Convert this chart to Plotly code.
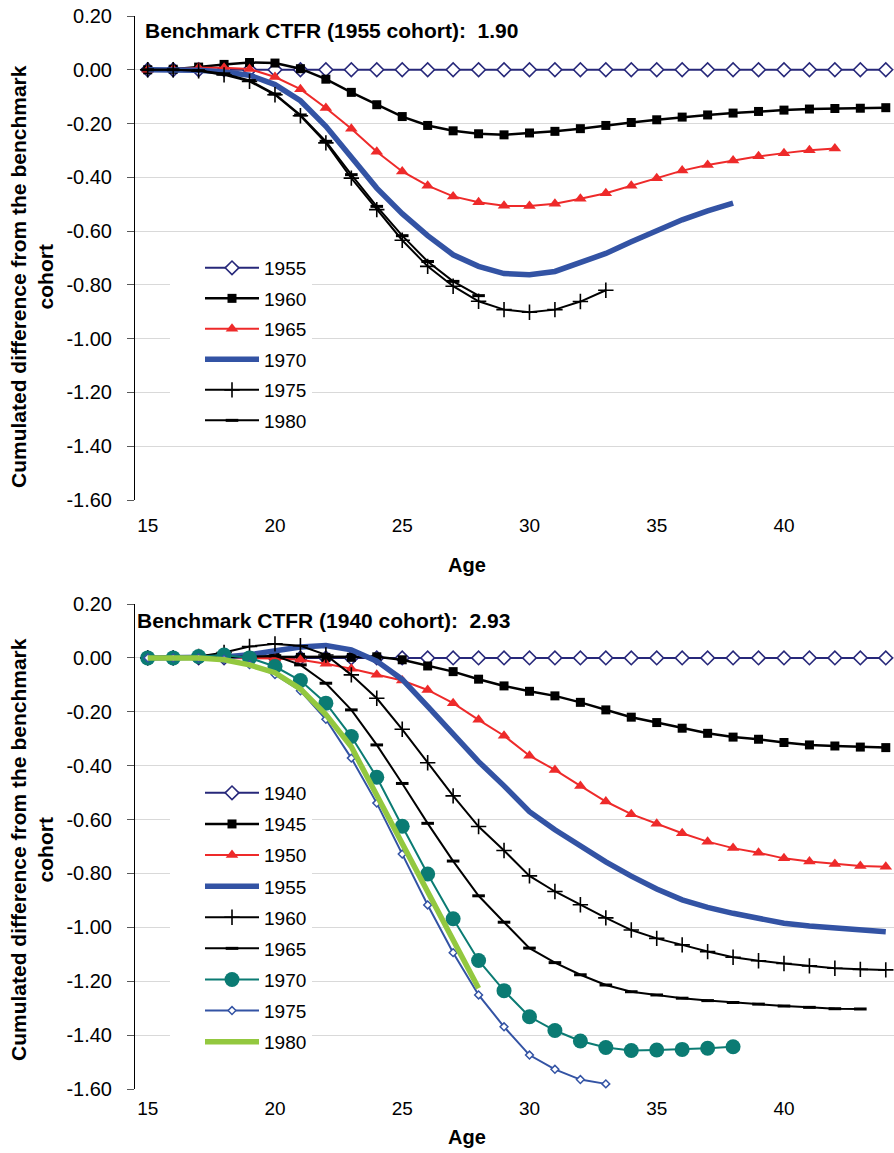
import plotly.graph_objects as go

# ---------------- data ----------------
top_ages_1955 = list(range(15, 45))
top_1955 = [0.000, 0.000, 0.000, 0.000, 0.000, 0.000, 0.000, 0.000, 0.000, 0.000,
            0.000, 0.000, 0.000, 0.000, 0.000, 0.000, 0.000, 0.000, 0.000, 0.000,
            0.000, 0.000, 0.000, 0.000, 0.000, 0.000, 0.000, 0.000, 0.000, 0.000]
top_ages_1960 = list(range(15, 45))
top_1960 = [0.000, 0.002, 0.010, 0.020, 0.027, 0.025, 0.004, -0.035, -0.084, -0.130,
            -0.174, -0.207, -0.227, -0.238, -0.242, -0.235, -0.229, -0.219, -0.207, -0.196,
            -0.186, -0.176, -0.168, -0.161, -0.155, -0.150, -0.146, -0.144, -0.143, -0.141]
top_ages_1965 = list(range(15, 43))
top_1965 = [0.000, 0.002, 0.008, 0.008, 0.003, -0.027, -0.072, -0.142, -0.219, -0.305,
            -0.378, -0.431, -0.471, -0.493, -0.506, -0.507, -0.498, -0.480, -0.459, -0.431,
            -0.403, -0.375, -0.354, -0.337, -0.322, -0.310, -0.299, -0.293]
top_ages_1970 = list(range(15, 39))
top_1970 = [0.000, 0.000, -0.002, -0.008, -0.020, -0.055, -0.115, -0.210, -0.325, -0.440,
            -0.535, -0.617, -0.688, -0.731, -0.758, -0.762, -0.750, -0.719, -0.683, -0.640,
            -0.597, -0.558, -0.525, -0.496]
top_ages_1975 = list(range(15, 34))
top_1975 = [0.000, 0.000, -0.004, -0.019, -0.043, -0.093, -0.171, -0.272, -0.403, -0.520,
            -0.634, -0.731, -0.805, -0.861, -0.892, -0.902, -0.892, -0.862, -0.820]
top_ages_1980 = list(range(15, 29))
top_1980 = [0.000, 0.000, -0.003, -0.015, -0.040, -0.090, -0.168, -0.266, -0.390, -0.508,
            -0.617, -0.713, -0.787, -0.840]

bot_ages_1940 = list(range(15, 45))
bot_1940 = [0.000, 0.000, 0.000, 0.000, 0.000, 0.000, 0.000, 0.000, 0.000, 0.000,
            0.000, 0.000, 0.000, 0.000, 0.000, 0.000, 0.000, 0.000, 0.000, 0.000,
            0.000, 0.000, 0.000, 0.000, 0.000, 0.000, 0.000, 0.000, 0.000, 0.000]
bot_ages_1945 = list(range(15, 45))
bot_1945 = [0.000, 0.000, 0.000, 0.002, 0.003, 0.003, 0.002, 0.002, 0.002, 0.004,
            -0.007, -0.030, -0.051, -0.079, -0.104, -0.124, -0.141, -0.165, -0.193, -0.220,
            -0.240, -0.261, -0.280, -0.294, -0.302, -0.314, -0.323, -0.327, -0.331, -0.333]
bot_ages_1950 = list(range(15, 45))
bot_1950 = [0.000, 0.000, 0.000, 0.000, 0.000, -0.002, -0.007, -0.022, -0.040, -0.063,
            -0.084, -0.119, -0.168, -0.230, -0.289, -0.363, -0.416, -0.475, -0.533, -0.580,
            -0.616, -0.651, -0.682, -0.706, -0.723, -0.744, -0.756, -0.765, -0.772, -0.775]
bot_ages_1955 = list(range(15, 45))
bot_1955 = [0.000, 0.000, 0.000, 0.003, 0.012, 0.028, 0.040, 0.046, 0.030, -0.012,
            -0.080, -0.180, -0.280, -0.385, -0.475, -0.571, -0.638, -0.700, -0.757, -0.810,
            -0.858, -0.898, -0.926, -0.948, -0.967, -0.985, -0.995, -1.003, -1.010, -1.016]
bot_ages_1960 = list(range(15, 45))
bot_1960 = [0.000, 0.000, 0.005, 0.020, 0.042, 0.052, 0.045, 0.011, -0.063, -0.150,
            -0.265, -0.389, -0.512, -0.626, -0.715, -0.809, -0.867, -0.916, -0.965, -1.010,
            -1.041, -1.065, -1.090, -1.111, -1.124, -1.134, -1.143, -1.152, -1.156, -1.158]
bot_ages_1965 = list(range(15, 44))
bot_1965 = [0.000, 0.000, 0.000, 0.002, 0.005, 0.008, -0.026, -0.094, -0.193, -0.323,
            -0.466, -0.614, -0.754, -0.883, -0.981, -1.077, -1.131, -1.176, -1.214, -1.239,
            -1.251, -1.263, -1.272, -1.279, -1.285, -1.292, -1.297, -1.302, -1.303]
bot_ages_1970 = list(range(15, 39))
bot_1970 = [0.000, 0.000, 0.005, 0.011, 0.000, -0.032, -0.084, -0.168, -0.292, -0.443,
            -0.625, -0.802, -0.968, -1.123, -1.235, -1.332, -1.383, -1.422, -1.446, -1.457,
            -1.455, -1.453, -1.449, -1.443]
bot_ages_1975 = list(range(15, 34))
bot_1975 = [0.000, 0.000, 0.000, -0.005, -0.025, -0.062, -0.122, -0.228, -0.372, -0.539,
            -0.728, -0.917, -1.094, -1.251, -1.369, -1.474, -1.527, -1.565, -1.581]
bot_ages_1980 = list(range(15, 29))
bot_1980 = [0.000, 0.000, 0.000, -0.007, -0.026, -0.055, -0.115, -0.210, -0.330, -0.510,
            -0.688, -0.861, -1.040, -1.226]

x_tick_vals = [15, 20, 25, 30, 35, 40]
x_tick_labels = ["15", "20", "25", "30", "35", "40"]
y_tick_vals = [0.2, 0.0, -0.2, -0.4, -0.6, -0.8, -1.0, -1.2, -1.4, -1.6]
y_tick_labels = ["0.20", "0.00", "-0.20", "-0.40", "-0.60", "-0.80", "-1.00", "-1.20", "-1.40", "-1.60"]
zero_tick_vals = [14.5, 19.5, 24.5, 29.5, 34.5, 39.5]

top_title = "Benchmark CTFR (1955 cohort):\u00a0 1.90"
bot_title = "Benchmark CTFR (1940 cohort):\u00a0 2.93"
y_title = "Cumulated difference from the benchmark<br>cohort"
x_title = "Age"

# ---------------- styles ----------------
NAVY = "#27287A"
BLACK = "#000000"
RED = "#EE2A2A"
BLUE = "#3353A4"
TEAL = "#0B7B73"
GREEN = "#93C83F"
FONT = "Liberation Sans, Arial, sans-serif"

W, H = 894, 1153


def py(p):
    return 1 - p / H


def px(p):
    return p / W


top_dom = [py(500), py(16)]
bot_dom = [py(1089), py(604)]
x_dom = [px(135), 1.0]
x_range = [14.5, 14.5 + (W - 135) / 25.45]
y_range = [-1.6, 0.2]

styles = {
    "navy_diamond": dict(line=dict(color=NAVY, width=2),
                         marker=dict(symbol="diamond", size=10.5, color="white",
                                     line=dict(color=NAVY, width=1.6))),
    "black_square": dict(line=dict(color=BLACK, width=2.5),
                         marker=dict(symbol="square", size=9, color=BLACK)),
    "red_triangle": dict(line=dict(color=RED, width=2),
                         marker=dict(symbol="triangle-up", size=11, color=RED)),
    "blue_thick": dict(line=dict(color=BLUE, width=5.5), mode="lines"),
    "black_plus": dict(line=dict(color=BLACK, width=2),
                       marker=dict(symbol="cross-thin", size=11, color=BLACK,
                                   line=dict(color=BLACK, width=1.6))),
    "black_dash": dict(line=dict(color=BLACK, width=2),
                       marker=dict(symbol="line-ew", size=9, color=BLACK,
                                   line=dict(color=BLACK, width=3))),
    "teal_circle": dict(line=dict(color=TEAL, width=2),
                        marker=dict(symbol="circle", size=15, color=TEAL)),
    "blue_small_diamond": dict(line=dict(color=BLUE, width=2),
                               marker=dict(symbol="diamond", size=6, color="white",
                                           line=dict(color=BLUE, width=1.5))),
    "green_thick": dict(line=dict(color=GREEN, width=5.5), mode="lines"),
}

top_series = [
    ("1955", top_ages_1955, top_1955, "navy_diamond"),
    ("1960", top_ages_1960, top_1960, "black_square"),
    ("1965", top_ages_1965, top_1965, "red_triangle"),
    ("1970", top_ages_1970, top_1970, "blue_thick"),
    ("1975", top_ages_1975, top_1975, "black_plus"),
    ("1980", top_ages_1980, top_1980, "black_dash"),
]
bot_series = [
    ("1940", bot_ages_1940, bot_1940, "navy_diamond"),
    ("1945", bot_ages_1945, bot_1945, "black_square"),
    ("1950", bot_ages_1950, bot_1950, "red_triangle"),
    ("1955", bot_ages_1955, bot_1955, "blue_thick"),
    ("1960", bot_ages_1960, bot_1960, "black_plus"),
    ("1965", bot_ages_1965, bot_1965, "black_dash"),
    ("1970", bot_ages_1970, bot_1970, "teal_circle"),
    ("1975", bot_ages_1975, bot_1975, "blue_small_diamond"),
    ("1980", bot_ages_1980, bot_1980, "green_thick"),
]

fig = go.Figure()
for name, xs, ys, st in top_series:
    s = dict(styles[st])
    mode = s.pop("mode", "lines+markers")
    fig.add_trace(go.Scatter(x=xs, y=ys, name=name, mode=mode, xaxis="x", yaxis="y",
                             legend="legend", legendgroup="t" + name, **s))
for name, xs, ys, st in bot_series:
    s = dict(styles[st])
    mode = s.pop("mode", "lines+markers")
    fig.add_trace(go.Scatter(x=xs, y=ys, name=name, mode=mode, xaxis="x2", yaxis="y2",
                             legend="legend2", legendgroup="b" + name, **s))

xtickfont = dict(family=FONT, size=19, color="black")
ytickfont = dict(family=FONT, size=20, color="black")


def xaxis_main(anchor, standoff):
    return dict(domain=x_dom, range=x_range, anchor=anchor, tickmode="array",
                tickvals=x_tick_vals, ticktext=x_tick_labels, showgrid=False,
                zeroline=False, showline=False, ticks="", tickfont=xtickfont,
                ticklabelstandoff=standoff, automargin=False)


def xaxis_zero(over, dom):
    pos = dom[0] + (0 - y_range[0]) / (y_range[1] - y_range[0]) * (dom[1] - dom[0])
    return dict(overlaying=over, anchor="free", position=pos, domain=x_dom, range=x_range,
                tickmode="array", tickvals=zero_tick_vals, showticklabels=False,
                ticks="outside", ticklen=5, tickcolor="#404040", tickwidth=1,
                showgrid=False, zeroline=False, showline=False, layer="below traces",
                automargin=False)


def yaxis_main(anchor, dom):
    return dict(domain=dom, range=y_range, anchor=anchor, tickmode="array",
                tickvals=y_tick_vals, ticktext=y_tick_labels, showgrid=True,
                gridcolor="#D9D9D9", gridwidth=1, zeroline=False, showline=True,
                linecolor="black", linewidth=1, ticks="outside", ticklen=7,
                tickcolor="#595959", tickfont=ytickfont, ticklabelstandoff=11,
                automargin=False)


legend_common = dict(bgcolor="white", borderwidth=0, xanchor="left", yanchor="top",
                     font=dict(family=FONT, size=19, color="black"),
                     itemwidth=54, indentation=30,
                     itemclick=False, itemdoubleclick=False)

fig.update_layout(
    width=W, height=H, margin=dict(l=0, r=0, t=0, b=0, autoexpand=False),
    paper_bgcolor="white", plot_bgcolor="white",
    font=dict(family=FONT, color="black"),
    showlegend=True,
    xaxis=xaxis_main("y", 12),
    yaxis=yaxis_main("x", top_dom),
    xaxis2=xaxis_main("y2", 6),
    yaxis2=yaxis_main("x2", bot_dom),
    xaxis3=xaxis_zero("x", top_dom),
    xaxis4=xaxis_zero("x2", bot_dom),
    legend=dict(x=px(170), y=py(249), tracegroupgap=2.8, **legend_common),
    legend2=dict(x=px(170), y=py(774), tracegroupgap=3.4, **legend_common),
    annotations=[
        dict(text=top_title, x=px(143), y=py(31), xref="paper", yref="paper",
             xanchor="left", yanchor="middle", showarrow=False,
             font=dict(family=FONT, size=21, color="black", weight="bold")),
        dict(text=bot_title, x=px(135), y=py(620), xref="paper", yref="paper",
             xanchor="left", yanchor="middle", showarrow=False,
             font=dict(family=FONT, size=21, color="black", weight="bold")),
        dict(text=x_title, x=px(467), y=py(565), xref="paper", yref="paper",
             xanchor="center", yanchor="middle", showarrow=False,
             font=dict(family=FONT, size=20, color="black", weight="bold")),
        dict(text=x_title, x=px(467), y=py(1137), xref="paper", yref="paper",
             xanchor="center", yanchor="middle", showarrow=False,
             font=dict(family=FONT, size=20, color="black", weight="bold")),
        dict(text=y_title, x=px(32), y=py(277), xref="paper", yref="paper",
             xanchor="center", yanchor="middle", showarrow=False, textangle=-90,
             font=dict(family=FONT, size=21, color="black", weight="bold")),
        dict(text=y_title, x=px(32), y=py(850), xref="paper", yref="paper",
             xanchor="center", yanchor="middle", showarrow=False, textangle=-90,
             font=dict(family=FONT, size=21, color="black", weight="bold")),
    ],
)

fig.write_html("out.html")
